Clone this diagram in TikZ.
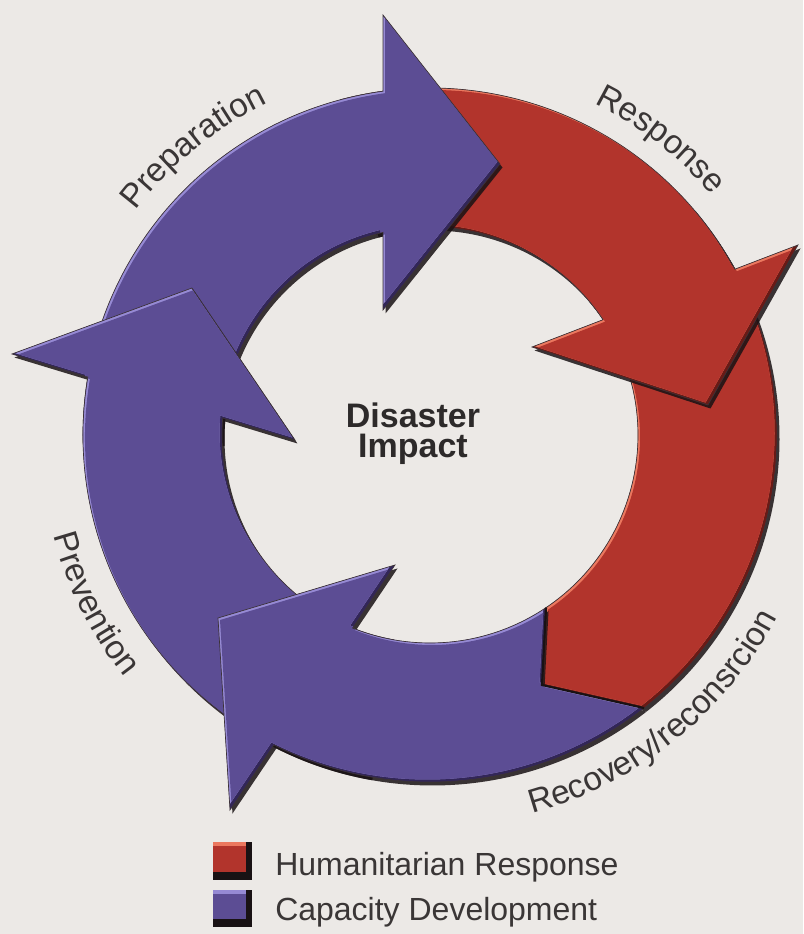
\documentclass[tikz,border=0pt]{standalone}
\usepackage{fontspec}
\setmainfont{Liberation Sans}
\usetikzlibrary{decorations.text}
\definecolor{bgc}{RGB}{236,233,230}
\definecolor{purp}{RGB}{92,77,148}
\definecolor{purphi}{RGB}{150,138,212}
\definecolor{purplo}{RGB}{50,38,88}
\definecolor{redm}{RGB}{178,52,44}
\definecolor{redhi}{RGB}{236,120,95}
\definecolor{redlo}{RGB}{105,26,22}
\definecolor{shad}{RGB}{25,18,20}
\definecolor{edgec}{RGB}{60,50,55}
\definecolor{labelc}{RGB}{58,54,54}
\definecolor{titlec}{RGB}{45,42,42}

\newcommand\labelfont{\fontsize{25}{30}\selectfont\color{labelc}}
\newcommand\legendfont{\fontsize{24}{28}\selectfont}
\newcommand\titlefont{\fontsize{25.5}{22.5}\selectfont\bfseries}

\newcommand\bevelfill[4]{%
  \fill[shad, opacity=0.85, shift={(2.5,-3.5)}] #1;
  \begin{scope}
    \clip #1;
    \fill[#4] #1;
    \fill[#3, shift={(-2.5,2.5)}] #1;
    \begin{scope}
      \clip[shift={(-2.5,2.5)}] #1;
      \fill[#2, shift={(2,-2)}] #1;
    \end{scope}
  \end{scope}
  \draw[edgec, line width=0.5pt] #1;
}

% arrow outlines (1 unit = 1 px, origin at ring centre)
\def\pReco{(40:347) arc[start angle=40, end angle=-51.9, radius=347] -- (112,-250) -- (-56.1:208) arc[start angle=-56.1, end angle=40, radius=208] -- cycle}
\def\pResp{(105:347) arc[start angle=105, end angle=28.54, radius=347] -- (368,190) -- (278,30) -- (102,88) -- (33.67:208) arc[start angle=33.67, end angle=105, radius=208] -- cycle}
\def\pPrep{(182:347) arc[start angle=182, end angle=97.78, radius=347] -- (-47,420) -- (70,271) -- (-47,125) -- (103.06:208) arc[start angle=103.06, end angle=182, radius=208] -- cycle}
\def\pPrev{(260:347) arc[start angle=260, end angle=170.39, radius=347] -- (-418,81) -- (-238,147) -- (-135,-5) -- (175.32:208) arc[start angle=175.32, end angle=260, radius=208] -- cycle}
\def\pBot{(-51.9:347) arc[start angle=-51.9, end angle=-116.74, radius=347] -- (-200,-375) -- (-212,-183) -- (-35,-130) -- (-111.86:208) arc[start angle=-111.86, end angle=-56.1, radius=208] -- (112,-250) -- cycle}
\def\pLegR{(-217,-407) rectangle (-178,-445)}
\def\pLegP{(-217,-455) rectangle (-178,-492)}

\begin{document}
\begin{tikzpicture}[x=0.75pt,y=0.75pt]
\useasboundingbox (-430,-499) rectangle (373,435);
\fill[bgc] (-430,-499) rectangle (373,435);

% ring of arrows
\bevelfill{\pReco}{redm}{redhi}{redlo}
\bevelfill{\pResp}{redm}{redhi}{redlo}
\bevelfill{\pPrep}{purp}{purphi}{purplo}
\bevelfill{\pPrev}{purp}{purphi}{purplo}
\bevelfill{\pBot}{purp}{purphi}{purplo}
\draw[shad, line width=1.6pt, line join=miter] (-56.1:208) -- (112,-250) -- (-51.9:347);

% curved labels
\path[decorate, decoration={text along path, text={|\labelfont|Preparation}, text align=center}]
  (154.4:370) arc[start angle=154.4, end angle=104.4, radius=370];
\path[decorate, decoration={text along path, text={|\labelfont|Response}, text align=center}]
  (77:370) arc[start angle=77, end angle=27, radius=370];
\path[decorate, decoration={text along path, text={|\labelfont|Prevention}, text align=center}]
  (181.7:390) arc[start angle=181.7, end angle=231.7, radius=390];
\path[decorate, decoration={text along path, text={|\labelfont|Recovery/reconsrcion}, text align=center}]
  (-86.3:392) arc[start angle=-86.3, end angle=-16.3, radius=392];

% centre title
\node[font=\titlefont, text=titlec, align=center, inner sep=0] (impact) at (-17,1.7) {Disaster\\Impact};

% legend
\fill[shad] \pLegR;
\fill[redm] (-217,-407) rectangle (-184,-437);
\fill[redhi] (-217,-407) rectangle (-184,-411);
\fill[shad] \pLegP;
\fill[purp] (-217,-455) rectangle (-184,-484);
\fill[purphi] (-217,-455) rectangle (-184,-459);
\node[anchor=base west, inner sep=0, font=\legendfont, text=labelc] (hum) at (-155,-440) {Humanitarian Response};
\node[anchor=base west, inner sep=0, font=\legendfont, text=labelc] (cap) at (-155,-485) {Capacity Development};
\end{tikzpicture}
\end{document}
